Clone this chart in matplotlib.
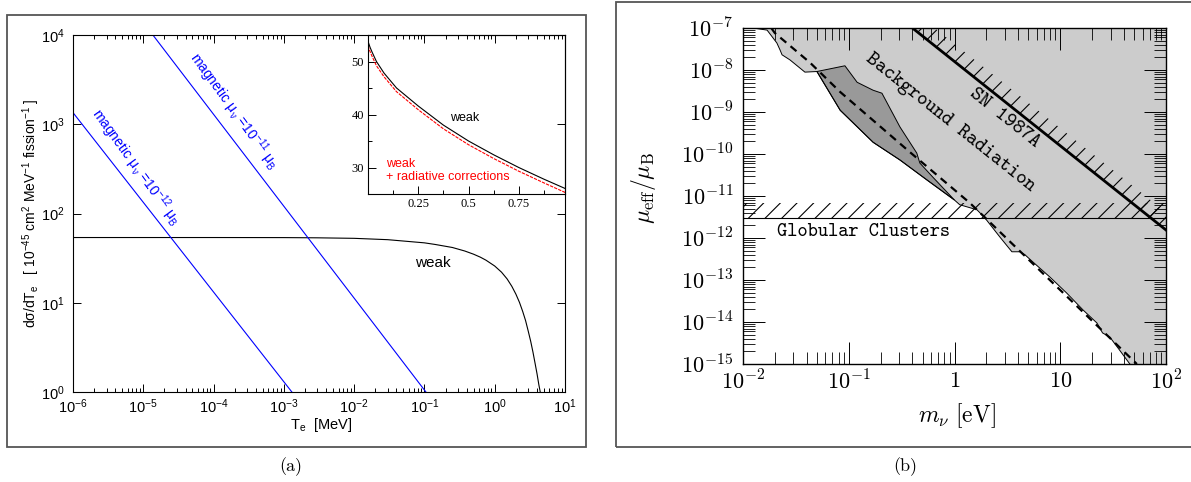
import matplotlib
matplotlib.use('Agg')
import matplotlib.pyplot as plt
from matplotlib.patches import Rectangle
from matplotlib.ticker import NullFormatter, NullLocator, MultipleLocator

plt.rcParams['font.family'] = ['Liberation Sans', 'DejaVu Sans']
plt.rcParams['mathtext.fontset'] = 'custom'
plt.rcParams['mathtext.rm'] = 'Liberation Sans'
plt.rcParams['mathtext.it'] = 'Liberation Sans:italic'
plt.rcParams['mathtext.bf'] = 'Liberation Sans:bold'
plt.rcParams['hatch.linewidth'] = 0.8

# ---- panel (a): electron recoil spectrum ----
te_weak = [1e-6, 1e-5, 1e-4, 1e-3, 3e-3, 1e-2, 3e-2, 0.1, 0.142, 0.25, 0.375, 0.5,
           0.625, 0.75, 1.0, 1.25, 1.5, 1.75, 2.0, 2.25, 2.5, 2.75, 3.0, 3.25,
           3.5, 3.75, 4.0, 4.25, 4.5, 4.6]
sig_weak = [53.8, 53.8, 53.8, 53.7, 53.4, 52.7, 50.9, 46.9, 45.0, 41.6, 38.0, 35.0,
            32.4, 30.0, 25.8, 22.0, 18.5, 15.3, 12.5, 10.1, 8.0, 6.3, 4.8, 3.7,
            2.8, 2.1, 1.6, 1.2, 0.95, 0.85]
te_mag12 = [1e-6, 1.3e-3]
sig_mag12 = [1350, 1.0]
te_mag11 = [1.37e-5, 0.105]
sig_mag11 = [1e4, 1.0]

# inset (linear scale)
te_ins = [0.0, 0.01, 0.02, 0.042, 0.08, 0.142, 0.25, 0.375, 0.5, 0.625, 0.75, 0.875, 0.983]
weak_ins = [53.8, 52.7, 51.8, 50.0, 47.8, 45.0, 41.6, 38.0, 35.0, 32.4, 30.0, 27.8, 26.0]
rad_ins = [53.0, 51.9, 51.0, 49.2, 47.1, 44.3, 40.9, 37.3, 34.3, 31.7, 29.3, 27.1, 25.25]

# ---- panel (b): magnetic moment limits ----
bg_m_left = [0.0125, 0.0169, 0.0209, 0.0224, 0.0234, 0.0278, 0.0385]
bg_mu_left = [1e-7, 8.9e-8, 4.4e-8, 3e-8, 2.3e-8, 1.74e-8, 8.9e-9]
dk_m_top = [0.050, 0.092, 0.12, 0.17, 0.206, 0.305, 0.44, 0.47, 0.625, 1.0]
dk_mu_top = [9.2e-9, 1.26e-8, 5.1e-9, 3.3e-9, 2.8e-9, 4.4e-10, 1.05e-10, 6.1e-11, 2.8e-11, 8e-12]
dk_m_bot = [0.050, 0.083, 0.17, 0.305, 0.55, 1.0]
dk_mu_bot = [9.2e-9, 1.1e-9, 1.9e-10, 7.2e-11, 2.4e-11, 8e-12]
bg_m_right = [1.12, 1.63, 1.94, 2.69, 3.49, 4.15, 4.63, 5.5, 7.97, 11.5, 16.4,
              22.2, 23.7, 25.1, 29.4, 36.6, 45.5]
bg_mu_right = [6.2e-12, 4.7e-12, 3e-12, 1.05e-12, 4.7e-13, 4.7e-13, 4e-13, 2.7e-13,
               1.18e-13, 4.9e-14, 1.94e-14, 9.5e-15, 7.2e-15, 5.5e-15, 4.4e-15, 2.1e-15, 1e-15]
dash_m = [0.0185, 0.020, 0.043, 0.083, 0.38, 1.4, 11.5, 53]
dash_mu = [1e-7, 7.6e-8, 1.5e-8, 3.0e-9, 1.1e-10, 6.8e-12, 4.1e-14, 1e-15]
sn_m = [0.4, 100]
sn_mu = [1e-7, 1.55e-12]
gc_lo, gc_hi = 3.0e-12, 6.8e-12

W, H = 1191, 482
fig = plt.figure(figsize=(W / 100, H / 100), dpi=100)


def box(x0, y0, x1, y1):
    return [x0 / W, 1 - y1 / H, (x1 - x0) / W, (y1 - y0) / H]


def ftext(px, py, s, **kw):
    fig.text(px / W, 1 - py / H, s, **kw)


# frames around panels
for x0, y0, x1, y1 in [(7, 15, 586, 447), (616, 2, 1196, 447)]:
    fig.add_artist(Rectangle((x0 / W, 1 - y1 / H), (x1 - x0) / W, (y1 - y0) / H,
                             transform=fig.transFigure, fill=False, ec='#555555', lw=1.3))

# ======== panel (a) ========
ax1 = fig.add_axes(box(73, 35, 565, 392))
ax1.set_xscale('log')
ax1.set_yscale('log')
ax1.plot(te_weak, sig_weak, color='k', lw=0.8)
ax1.plot(te_mag12, sig_mag12, color='#0000ff', lw=0.8)
ax1.plot(te_mag11, sig_mag11, color='#0000ff', lw=0.8)
ax1.set_xlim(1e-6, 10)
ax1.set_ylim(1, 1e4)
ax1.set_xticks([10.0 ** k for k in range(-6, 2)],
               [rf'$\mathrm{{10^{{{k}}}}}$' for k in range(-6, 2)], fontsize=10.5)
ax1.set_yticks([10.0 ** k for k in range(0, 5)],
               [rf'$\mathrm{{10^{{{k}}}}}$' for k in range(0, 5)], fontsize=10.5)
ax1.xaxis.set_minor_formatter(NullFormatter())
ax1.yaxis.set_minor_locator(NullLocator())
ax1.tick_params(which='both', direction='in', top=True, right=True, width=0.7)
ax1.tick_params(which='major', length=6, pad=4)
ax1.tick_params(axis='y', pad=6)
ax1.tick_params(which='minor', length=3)
for s in ax1.spines.values():
    s.set_linewidth(0.8)

ax1.text(7.9e-6, 332, r'magnetic $\mathrm{μ_{\,ν}}$ =10$^{\mathrm{-12}}$ $\mathrm{μ_B}$',
         color='#0000ff', fontsize=10, rotation=-54, rotation_mode='anchor',
         ha='center', va='center')
ax1.text(1.9e-4, 1400, r'magnetic $\mathrm{μ_{\,ν}}$ =10$^{\mathrm{-11}}$ $\mathrm{μ_B}$',
         color='#0000ff', fontsize=10, rotation=-54, rotation_mode='anchor',
         ha='center', va='center')
ax1.text(0.132, 27.9, 'weak', fontsize=11, ha='center', va='center')

ftext(31, 213, r'd$\mathrm{σ}$/dT$_\mathrm{e}$   [ 10$^{\mathrm{-45}}$ cm$^{\mathrm{2}}$ '
      r'MeV$^{\mathrm{-1}}$ fission$^{\mathrm{-1}}$ ]',
      fontsize=10, rotation=90, ha='center', va='center')
ftext(321, 425, r'T$_\mathrm{e}$  [MeV]', fontsize=10.5, ha='center', va='center')
ftext(291, 467, '(a)', family='cmr10', fontsize=13, ha='center', va='center')

# inset
axi = fig.add_axes(box(368, 35, 565, 194))
axi.set_facecolor('none')
axi.plot(te_ins, weak_ins, color='k', lw=0.8)
axi.plot(te_ins, rad_ins, color='#ff0000', lw=0.8, dashes=(3, 1))
axi.set_xlim(0, 0.98)
axi.set_ylim(25, 55)
axi.set_xticks([0.25, 0.5, 0.75], ['0.25', '0.5', '0.75'],
               family='Liberation Serif', fontsize=9)
axi.set_yticks([30, 40, 50], ['30', '40', '50'], family='Liberation Serif', fontsize=9)
axi.xaxis.set_minor_locator(MultipleLocator(0.125))
axi.yaxis.set_minor_locator(MultipleLocator(5))
axi.tick_params(which='both', direction='in', width=0.7, pad=3)
axi.tick_params(which='major', length=6)
axi.tick_params(which='minor', length=3)
for s in axi.spines.values():
    s.set_linewidth(0.8)
axi.text(0.4825, 39.3, 'weak', fontsize=9, ha='center', va='center')
axi.text(0.09, 30.6, 'weak', color='#ff0000', fontsize=9, ha='left', va='center')
axi.text(0.09, 28.2, '+ radiative corrections', color='#ff0000', fontsize=9,
         ha='left', va='center')

# ======== panel (b) ========
ax2 = fig.add_axes(box(743, 28, 1166, 364))
ax2.set_xscale('log')
ax2.set_yscale('log')
ax2.set_axisbelow(False)

low_m = bg_m_left + dk_m_bot + bg_m_right
low_mu = bg_mu_left + dk_mu_bot + bg_mu_right
ax2.fill(low_m + [100, 100], low_mu + [1e-15, 1e-7], color='#cccccc', lw=0, zorder=1)
ax2.fill(dk_m_top + dk_m_bot[::-1], dk_mu_top + dk_mu_bot[::-1],
         fc='#999999', ec='k', lw=0.7, zorder=1.5)
ax2.plot(low_m, low_mu, color='k', lw=0.7, zorder=3)
ax2.plot(dash_m, dash_mu, color='k', lw=1.6, dashes=(3.5, 2.5), zorder=4)

ax2.fill_between([1e-2, 1e2], gc_lo, gc_hi, facecolor='none', edgecolor='k',
                 hatch='//', lw=0, zorder=3)
ax2.plot([1e-2, 1e2], [gc_lo, gc_lo], color='k', lw=0.8, zorder=3)

sn_up = [v * 10 ** 0.42 for v in sn_mu]
ax2.fill_between(sn_m, sn_mu, sn_up, facecolor='none', edgecolor='k',
                 hatch='//', lw=0, zorder=3)
ax2.plot(sn_m, sn_mu, color='k', lw=2.0, zorder=5)

ax2.set_xlim(1e-2, 1e2)
ax2.set_ylim(1e-15, 1e-7)
ax2.set_xticks([1e-2, 1e-1, 1, 10, 1e2],
               [r'$10^{-2}$', r'$10^{-1}$', r'$1$', r'$10$', r'$10^{2}$'],
               math_fontfamily='cm', fontsize=16)
ax2.set_yticks([10.0 ** k for k in range(-15, -6)],
               [rf'$10^{{{k}}}$' for k in range(-15, -6)],
               math_fontfamily='cm', fontsize=16)
ax2.xaxis.set_minor_formatter(NullFormatter())
ax2.yaxis.set_minor_formatter(NullFormatter())
ax2.tick_params(which='both', direction='in', top=True, right=True)
ax2.tick_params(which='major', length=16, width=0.7)
ax2.tick_params(which='minor', length=8.5, width=0.6)
ax2.tick_params(axis='x', pad=5)
ax2.tick_params(axis='y', pad=7)
for s in ax2.spines.values():
    s.set_linewidth(1.0)

ax2.text(0.905, 5.5e-10, 'Background Radiation', family='cmtt10', fontsize=14.5,
         rotation=-38.5, rotation_mode='anchor', ha='center', va='center', zorder=6)
ax2.text(2.99, 7.2e-10, 'SN 1987A', family='cmtt10', fontsize=14.5,
         rotation=-38.5, rotation_mode='anchor', ha='center', va='center', zorder=6)
ax2.text(0.021, 1.39e-12, 'Globular Clusters', family='cmtt10', fontsize=14,
         ha='left', va='center', zorder=6)

ftext(643, 188, r'$\mu_{\rm eff}/\mu_{\rm B}$', math_fontfamily='cm', fontsize=17,
      rotation=90, ha='center', va='center')
ftext(957, 416, r'$m_\nu\ [\rm eV]$', math_fontfamily='cm', fontsize=17,
      ha='center', va='center')
ftext(905, 467, '(b)', family='cmr10', fontsize=13, ha='center', va='center')

fig.savefig('out.png', dpi=100)
